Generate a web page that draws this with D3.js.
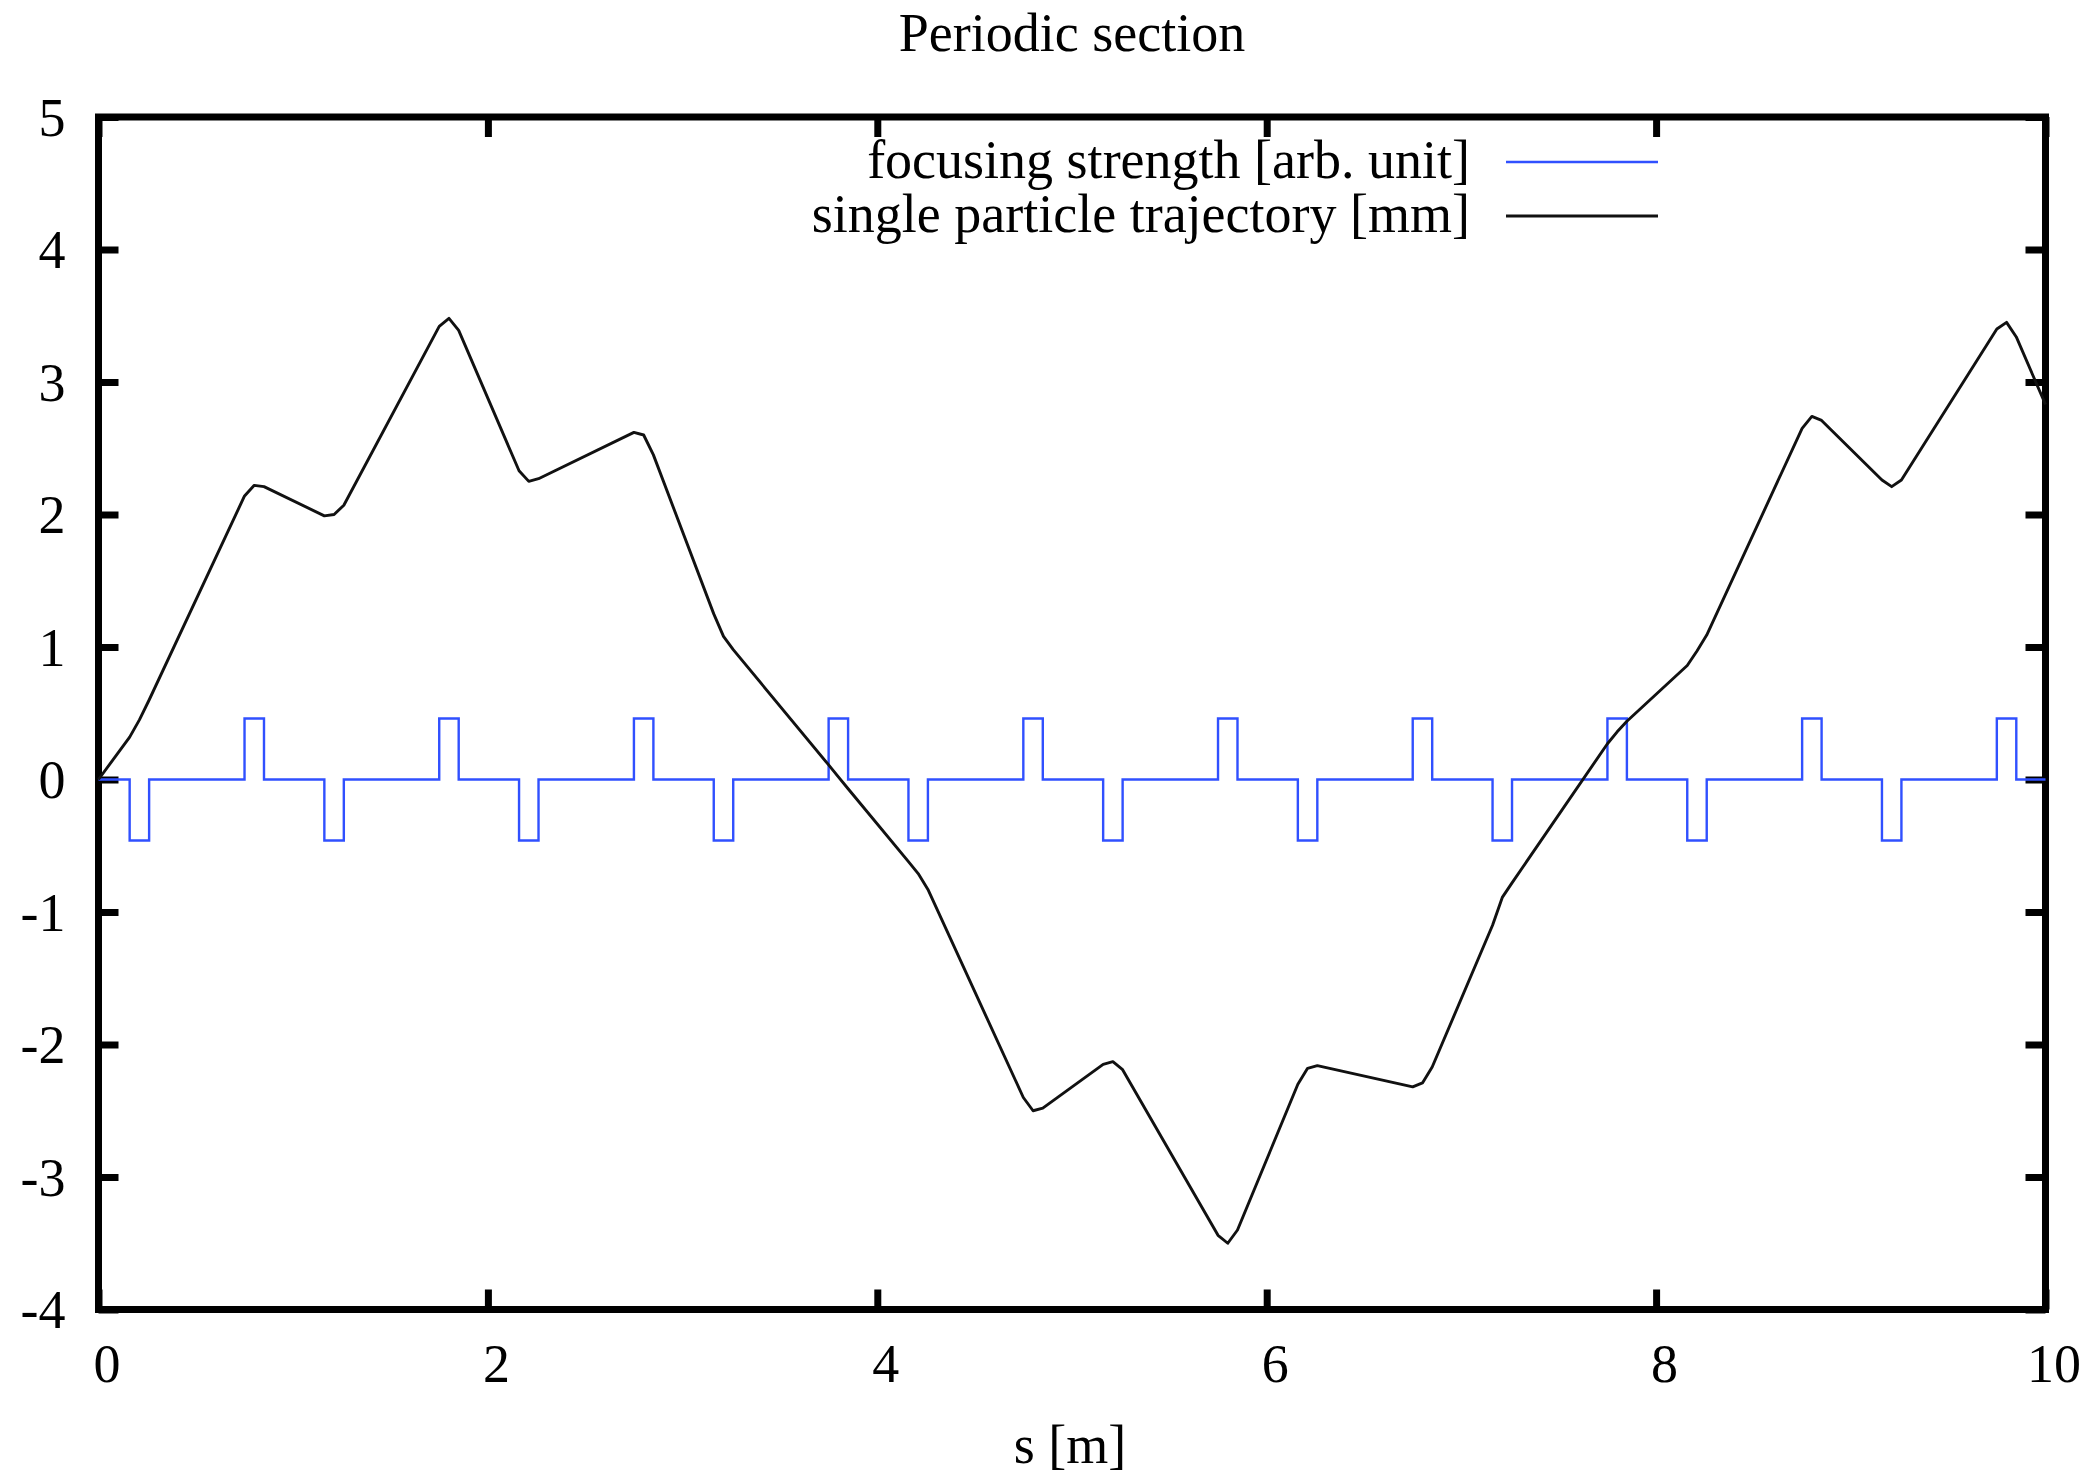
<!DOCTYPE html>
<html>
<head>
<meta charset="utf-8">
<script src="https://cdnjs.cloudflare.com/ajax/libs/d3/7.8.5/d3.min.js"></script>
<style>
  body { margin: 0; background: #fff; }
  text { font-family: "Liberation Serif", "Times New Roman", serif; font-size: 54px; fill: #000; }
</style>
</head>
<body>
<div id="chart"></div>
<script>
// focusing strength: step positions [m] and values (held until next position)
var focusS = [0, 0.16, 0.26, 0.75, 0.85, 1.16, 1.26, 1.75, 1.85, 2.16, 2.26, 2.75, 2.85,
  3.16, 3.26, 3.75, 3.85, 4.16, 4.26, 4.75, 4.85, 5.16, 5.26, 5.75, 5.85, 6.16, 6.26,
  6.75, 6.85, 7.16, 7.26, 7.75, 7.85, 8.16, 8.26, 8.75, 8.85, 9.16, 9.26, 9.75, 9.85, 10];
var focusK = [0, -0.46, 0, 0.46, 0, -0.46, 0, 0.46, 0, -0.46, 0, 0.46, 0,
  -0.46, 0, 0.46, 0, -0.46, 0, 0.46, 0, -0.46, 0, 0.46, 0, -0.46, 0,
  0.46, 0, -0.46, 0, 0.46, 0, -0.46, 0, 0.46, 0, -0.46, 0, 0.46, 0, 0];

// single particle trajectory [mm]
var trajS = [0, 0.16, 0.21, 0.26, 0.75, 0.80, 0.85, 1.16, 1.21, 1.26, 1.75, 1.80, 1.85,
  2.16, 2.21, 2.26, 2.75, 2.80, 2.85, 3.16, 3.21, 3.26, 3.75, 3.80, 3.85, 4.16, 4.21, 4.26,
  4.75, 4.80, 4.85, 5.16, 5.21, 5.26, 5.75, 5.80, 5.85, 6.16, 6.21, 6.26, 6.75, 6.80, 6.85,
  7.16, 7.21, 7.26, 7.75, 7.80, 7.85, 8.16, 8.21, 8.26, 8.75, 8.80, 8.85, 9.16, 9.21, 9.26,
  9.75, 9.80, 9.85, 10];
var trajX = [0, 0.32, 0.45, 0.60, 2.14, 2.22, 2.21, 1.99, 2.00, 2.07, 3.42, 3.48, 3.39,
  2.33, 2.25, 2.27, 2.62, 2.60, 2.45, 1.25, 1.08, 0.98, 0.11, 0.02, -0.07, -0.62, -0.71, -0.83,
  -2.40, -2.50, -2.48, -2.15, -2.13, -2.19, -3.44, -3.50, -3.40, -2.30, -2.18, -2.16, -2.32, -2.29, -2.17,
  -1.10, -0.89, -0.78, 0.27, 0.36, 0.44, 0.86, 0.97, 1.09, 2.65, 2.74, 2.71, 2.26, 2.21, 2.26,
  3.40, 3.45, 3.34, 2.83];

var xTicks = [0, 2, 4, 6, 8, 10];
var yTicks = [-4, -3, -2, -1, 0, 1, 2, 3, 4, 5];
var seriesNames = ["focusing strength [arb. unit]", "single particle trajectory [mm]"];
var seriesColors = ["#3050ff", "#111111"];

var W = 2100, H = 1476;
var plot = {left: 98.5, right: 2045.5, top: 117, bottom: 1309.5};
var tickLen = 20;

var svg = d3.select("#chart")
  .append("svg")
  .attr("width", W)
  .attr("height", H);

var x = d3.scaleLinear().domain([0, 10]).range([plot.left, plot.right]);
var y = d3.scaleLinear().domain([-4, 5]).range([plot.bottom, plot.top]);

function styleAxis(g) {
  g.select(".domain").remove();
  g.selectAll(".tick line")
    .attr("stroke", "#000")
    .attr("stroke-width", 7);
}

// x axis (bottom, labelled) and top ticks
svg.append("g")
  .attr("transform", "translate(0," + plot.bottom + ")")
  .call(d3.axisBottom(x).tickValues(xTicks).tickSize(-tickLen).tickFormat(function(d) { return String(d); }))
  .call(styleAxis)
  .selectAll("text")
    .attr("y", 72)
    .attr("dy", 0)
    .attr("dx", 8)
    .attr("font-family", null)
    .attr("font-size", null);

svg.append("g")
  .attr("transform", "translate(0," + plot.top + ")")
  .call(d3.axisTop(x).tickValues(xTicks).tickSize(-tickLen).tickFormat(""))
  .call(styleAxis);

// y axis (left, labelled) and right ticks
svg.append("g")
  .attr("transform", "translate(" + plot.left + ",0)")
  .call(d3.axisLeft(y).tickValues(yTicks).tickSize(-tickLen).tickFormat(function(d) { return String(d); }))
  .call(styleAxis)
  .selectAll("text")
    .attr("x", -33)
    .attr("dy", "0.34em")
    .attr("font-family", null)
    .attr("font-size", null);

svg.append("g")
  .attr("transform", "translate(" + plot.right + ",0)")
  .call(d3.axisRight(y).tickValues(yTicks).tickSize(-tickLen).tickFormat(""))
  .call(styleAxis);

// border
svg.append("rect")
  .attr("x", plot.left)
  .attr("y", plot.top)
  .attr("width", plot.right - plot.left)
  .attr("height", plot.bottom - plot.top)
  .attr("fill", "none")
  .attr("stroke", "#000")
  .attr("stroke-width", 7);

// data
var focusData = focusS.map(function(s, i) { return {s: s, v: focusK[i]}; });
var trajData = trajS.map(function(s, i) { return {s: s, v: trajX[i]}; });

var stepLine = d3.line()
  .x(function(d) { return x(d.s); })
  .y(function(d) { return y(d.v); })
  .curve(d3.curveStepAfter);

var plainLine = d3.line()
  .x(function(d) { return x(d.s); })
  .y(function(d) { return y(d.v); });

svg.append("path")
  .datum(focusData)
  .attr("d", stepLine)
  .attr("fill", "none")
  .attr("stroke", seriesColors[0])
  .attr("stroke-width", 2.4);

svg.append("path")
  .datum(trajData)
  .attr("d", plainLine)
  .attr("fill", "none")
  .attr("stroke", seriesColors[1])
  .attr("stroke-width", 2.9)
  .attr("stroke-linejoin", "round");

// title and axis label
svg.append("text")
  .attr("x", (plot.left + plot.right) / 2)
  .attr("y", 51)
  .attr("text-anchor", "middle")
  .text("Periodic section");

svg.append("text")
  .attr("x", 1070)
  .attr("y", 1463)
  .attr("text-anchor", "middle")
  .text("s [m]");

// legend
var legend = svg.selectAll(".legend")
  .data(seriesNames)
  .enter()
  .append("g")
  .attr("class", "legend")
  .attr("transform", function(d, i) { return "translate(0," + (162 + i * 54) + ")"; });

legend.append("text")
  .attr("x", 1470)
  .attr("y", 16)
  .attr("text-anchor", "end")
  .text(function(d) { return d; });

legend.append("line")
  .attr("x1", 1506)
  .attr("x2", 1658)
  .attr("y1", 0)
  .attr("y2", 0)
  .attr("stroke", function(d, i) { return seriesColors[i]; })
  .attr("stroke-width", function(d, i) { return i == 0 ? 2.4 : 2.9; });
</script>
</body>
</html>
